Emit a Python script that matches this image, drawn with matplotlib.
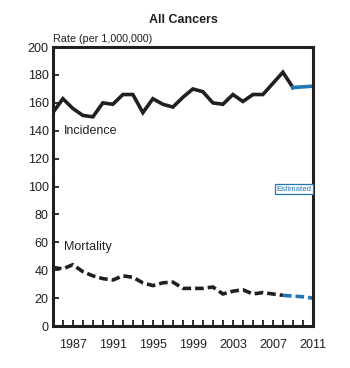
import matplotlib
matplotlib.use('Agg')
import matplotlib.pyplot as plt
from matplotlib import font_manager

names = set(f.name for f in font_manager.fontManager.ttflist)
if 'Liberation Sans Narrow' in names:
    plt.rcParams['font.family'] = ['Liberation Sans Narrow', 'DejaVu Sans']
    fs = 1.1
else:
    plt.rcParams['font.family'] = ['Liberation Sans', 'DejaVu Sans']
    fs = 0.95

# observed years
years = list(range(1985, 2010))
incidence = [153, 163, 156, 151, 150, 160, 159, 166, 166, 153, 163, 159, 157, 164,
             170, 168, 160, 159, 166, 161, 166, 166, 174, 182, 171]
mort_years = list(range(1985, 2009))
mortality = [42, 41, 44, 39, 36, 34, 33, 36, 35, 31, 29, 31, 31.5, 27,
             27, 27, 28, 23, 25, 26, 23, 24, 23, 22]

# estimated part
est_inc_years = [2009, 2010, 2011]
est_incidence = [171, 171.5, 172]
est_mort_years = [2008, 2009, 2010, 2011]
est_mortality = [22, 21.5, 21, 20]

xtick_years = [1987, 1991, 1995, 1999, 2003, 2007, 2011]
black = '#231f20'
blue = '#1f77b8'

fig = plt.figure(figsize=(3.5, 3.68), dpi=100, facecolor='white')
ax = fig.add_axes([0.151, 0.114, 0.743, 0.758])

ax.plot(years, incidence, color=black, linewidth=2.6, solid_joinstyle='miter')
ax.plot(est_inc_years, est_incidence, color=blue, linewidth=2.6)
ax.plot(mort_years, mortality, color=black, linewidth=2.6, linestyle=(0, (2.4, 1.1)))
ax.plot(est_mort_years, est_mortality, color=blue, linewidth=2.6, linestyle=(0, (2.4, 1.1)))

ax.set_xlim(1985, 2011)
ax.set_ylim(0, 200)
ax.set_yticks(range(0, 201, 20))
ax.set_xticks(xtick_years)
ax.set_xticks(range(1985, 2012), minor=True)
ax.tick_params(axis='both', which='both', direction='in', color=black, width=1.3,
               labelsize=9.5 * fs, labelcolor=black)
ax.tick_params(axis='x', which='both', length=4, pad=9)
ax.tick_params(axis='y', length=4, pad=3)
ax.tick_params(axis='y', which='minor', left=False)
for s in ax.spines.values():
    s.set_linewidth(2.2)
    s.set_color(black)

ax.text(1986.1, 140, 'Incidence', fontsize=9.5 * fs, color=black, va='center')
ax.text(1986.1, 57, 'Mortality', fontsize=9.5 * fs, color=black, va='center')
ax.text(2010.85, 98, 'Estimated', fontsize=6 * fs, color=blue, ha='right', va='center',
        bbox=dict(boxstyle='square,pad=0.2', facecolor='white', edgecolor=blue, linewidth=0.9))

fig.text(0.151, 0.893, 'Rate (per 1,000,000)', fontsize=8.2 * fs, color=black, ha='left', va='center')
fig.text(0.523, 0.945, 'All Cancers', fontsize=9.5 * fs, fontweight='bold', color=black,
         ha='center', va='center')

fig.savefig('out.png', dpi=100)
